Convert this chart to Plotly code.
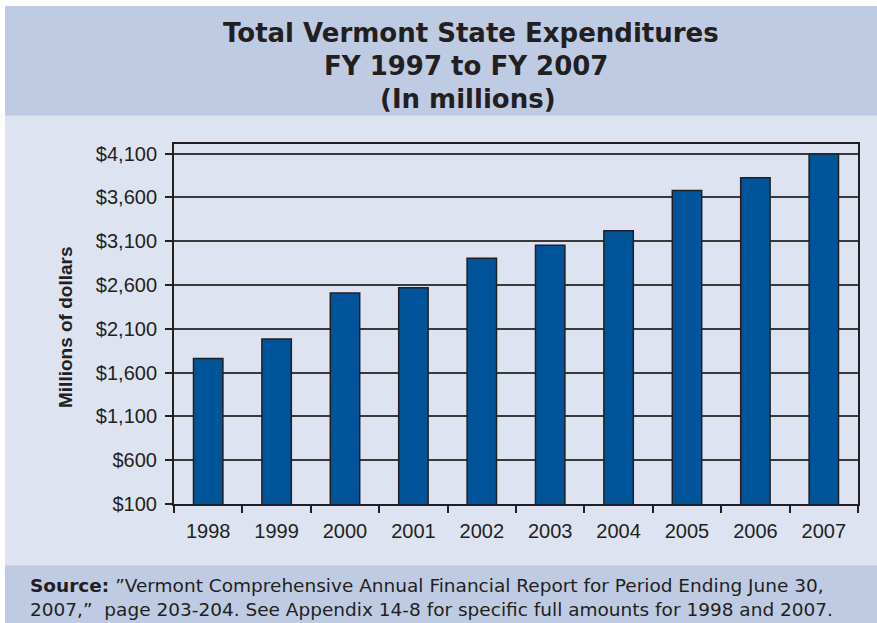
import plotly.graph_objects as go

years = ["1998", "1999", "2000", "2001", "2002", "2003", "2004", "2005", "2006", "2007"]
expenditures = [1760, 1984, 2508, 2570, 2907, 3055, 3219, 3678, 3826, 4097]
tick_values = [100, 600, 1100, 1600, 2100, 2600, 3100, 3600, 4100]
tick_labels = ["$100", "$600", "$1,100", "$1,600", "$2,100", "$2,600", "$3,100", "$3,600", "$4,100"]

W, H = 877, 623
L, R, T, B = 174, 858, 144, 504


def px(x):
    return (x - L) / (R - L)


def py(y):
    return (B - y) / (B - T)


fig = go.Figure()
fig.add_trace(go.Bar(
    x=years, y=expenditures,
    marker=dict(color="#00549A", line=dict(color="#231F20", width=1.5)),
    width=0.43,
))

band = "#BFCBE3"
light = "#DDE3F1"
shapes = [
    dict(type="rect", xref="paper", yref="paper", x0=px(5), x1=px(877), y0=py(623), y1=py(6),
         fillcolor=light, line=dict(width=0), layer="below"),
    dict(type="rect", xref="paper", yref="paper", x0=px(5), x1=px(877), y0=py(115.5), y1=py(6),
         fillcolor=band, line=dict(width=0), layer="below"),
    dict(type="rect", xref="paper", yref="paper", x0=px(5), x1=px(877), y0=py(623), y1=py(565.5),
         fillcolor=band, line=dict(width=0), layer="below"),
]

tfont = dict(family="DejaVu Sans", size=26, color="#231F20")
ffont = dict(family="DejaVu Sans", size=18.5, color="#231F20")
annotations = [
    dict(text="<b>Total Vermont State Expenditures</b>", x=px(471), y=py(33), xref="paper", yref="paper",
         showarrow=False, font=tfont, xanchor="center", yanchor="middle"),
    dict(text="<b>FY 1997 to FY 2007</b>", x=px(466), y=py(66), xref="paper", yref="paper",
         showarrow=False, font=tfont, xanchor="center", yanchor="middle"),
    dict(text="<b>(In millions)</b>", x=px(468), y=py(99), xref="paper", yref="paper",
         showarrow=False, font=tfont, xanchor="center", yanchor="middle"),
    dict(text="<b>Millions of dollars</b>", x=px(65), y=py(327), xref="paper", yref="paper",
         showarrow=False, textangle=-90, font=dict(family="Liberation Sans", size=19, color="#231F20"),
         xanchor="center", yanchor="middle"),
    dict(text="<b>Source:</b> \u201dVermont Comprehensive Annual Financial Report for Period Ending June 30,",
         x=px(28), y=py(585), xref="paper", yref="paper", showarrow=False,
         font=ffont, xanchor="left", yanchor="middle"),
    dict(text="2007,\u201d  page 203-204. See Appendix 14-8 for specific full amounts for 1998 and 2007.",
         x=px(28), y=py(609), xref="paper", yref="paper", showarrow=False,
         font=ffont, xanchor="left", yanchor="middle"),
]

fig.update_layout(
    width=W, height=H,
    margin=dict(l=L, r=W - R, t=T, b=H - B, pad=0),
    paper_bgcolor="white", plot_bgcolor="white",
    showlegend=False,
    shapes=shapes, annotations=annotations,
    font=dict(family="Liberation Sans", color="#231F20"),
    xaxis=dict(
        type="category", tickson="boundaries", ticks="outside", ticklen=7, tickwidth=1.5,
        tickcolor="#231F20", showline=True, linecolor="#231F20", linewidth=2, mirror=True,
        showgrid=False, tickfont=dict(size=20, color="#231F20"), ticklabelstandoff=8,
    ),
    yaxis=dict(
        range=[100, 4210], tickvals=tick_values, ticktext=tick_labels,
        ticks="outside", ticklen=7, tickwidth=1.5, tickcolor="#231F20",
        showline=True, linecolor="#231F20", linewidth=2, mirror=True,
        showgrid=True, gridcolor="#3A3A3A", gridwidth=1.5, zeroline=False,
        tickfont=dict(size=20, color="#231F20"), ticklabelstandoff=4,
    ),
)

fig.write_html("out.html", config={"displayModeBar": False},
               post_script="document.body.style.margin='0';document.body.style.overflow='hidden';")
